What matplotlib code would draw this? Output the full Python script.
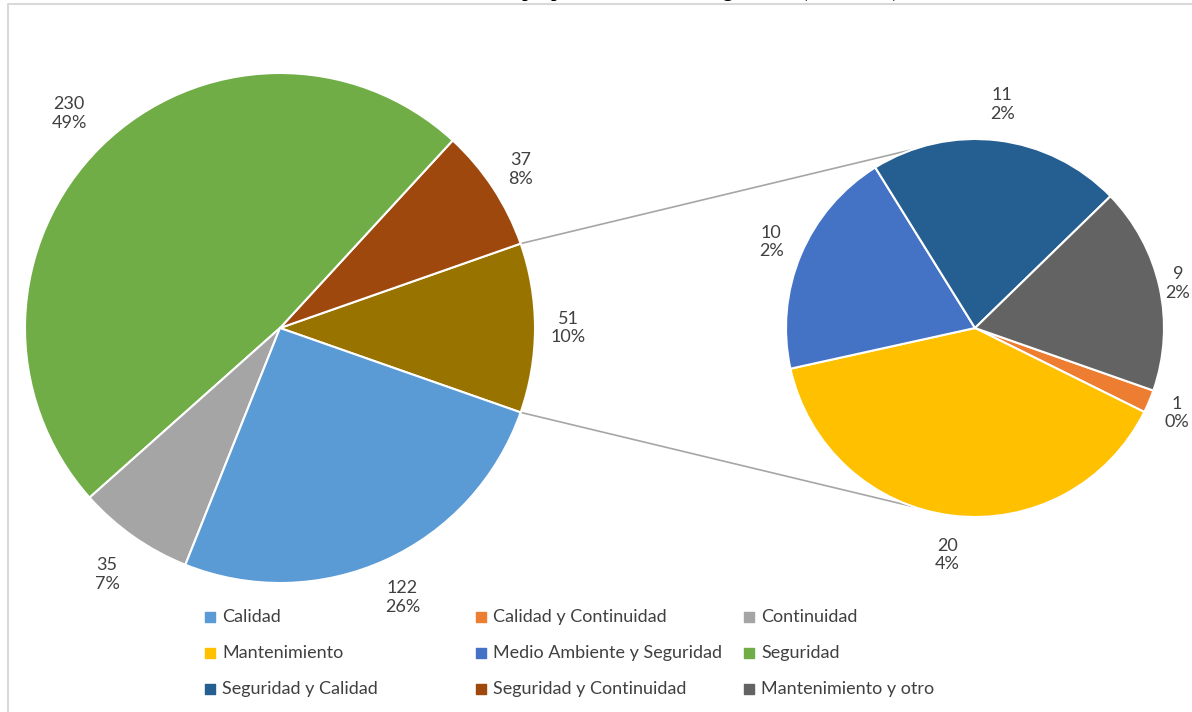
import matplotlib.pyplot as plt
import numpy as np

# data
main_names = ["Calidad", "Continuidad", "Seguridad", "Seguridad y Continuidad", "Otro"]
main_values = [122, 35, 230, 37, 51]
main_pcts = ["26%", "7%", "49%", "8%", "10%"]

sub_names = ["Calidad y Continuidad", "Mantenimiento", "Medio Ambiente y Seguridad",
             "Seguridad y Calidad", "Mantenimiento y otro"]
sub_values = [1, 20, 10, 11, 9]
sub_pcts = ["0%", "4%", "2%", "2%", "2%"]

legend_names = ["Calidad", "Calidad y Continuidad", "Continuidad",
                "Mantenimiento", "Medio Ambiente y Seguridad", "Seguridad",
                "Seguridad y Calidad", "Seguridad y Continuidad", "Mantenimiento y otro"]

colors = {
    "Calidad": "#5B9BD5",
    "Calidad y Continuidad": "#ED7D31",
    "Continuidad": "#A5A5A5",
    "Mantenimiento": "#FFC000",
    "Medio Ambiente y Seguridad": "#4472C4",
    "Seguridad": "#70AD47",
    "Seguridad y Calidad": "#255E91",
    "Seguridad y Continuidad": "#9E480E",
    "Mantenimiento y otro": "#636363",
    "Otro": "#997300",
}

# label distances (best-fit placement, as in Excel)
main_label_dist = [1.16, 1.18, 1.18, 1.13, 1.13]
sub_label_dist = [1.16, 1.21, 1.17, 1.19, 1.10]

plt.rcParams['font.family'] = ['Lato', 'DejaVu Sans']
txt_color = "#404040"
fs = 13

W, H = 1192, 712
fig = plt.figure(figsize=(W / 100, H / 100), dpi=100)
ax = fig.add_axes([0, 0, 1, 1])

# frame of the chart area (only top/left visible)
ax.plot([8, 8, W + 5], [-5, H - 4, H - 4], color="#d9d9d9", lw=1.5, clip_on=False)

# title, cropped by the top edge in the original (only descenders show)
fig.text(425 / W, 1.0 + 3 / H, "Número de propuestas realizadas según área (2019-2020)",
         ha="left", va="baseline", fontsize=14, fontweight="bold", family="Liberation Serif")

# main pie: "Otro" centred on the right, drawn counter-clockwise
main_c = (280, H - 328)
main_r = 255
order = [4, 3, 2, 1, 0]
vals = [main_values[i] for i in order]
start = -main_values[4] / sum(main_values) * 360 / 2
wedges, _ = ax.pie(vals, colors=[colors[main_names[i]] for i in order], center=main_c,
                   radius=main_r, startangle=start, counterclock=True,
                   wedgeprops=dict(edgecolor="white", linewidth=1.5))
for w, i in zip(wedges, order):
    ang = np.deg2rad((w.theta1 + w.theta2) / 2)
    d = main_r * main_label_dist[i]
    ax.text(main_c[0] + d * np.cos(ang), main_c[1] + d * np.sin(ang),
            f"{main_values[i]}\n{main_pcts[i]}", ha="center", va="center",
            fontsize=fs, color=txt_color, linespacing=1.2)

# secondary pie: clockwise from the same angle
sub_c = (975, H - 328)
sub_r = 189
sw, _ = ax.pie(sub_values, colors=[colors[n] for n in sub_names], center=sub_c,
               radius=sub_r, startangle=start, counterclock=False,
               wedgeprops=dict(edgecolor="white", linewidth=1.5))
for w, v, p, ld in zip(sw, sub_values, sub_pcts, sub_label_dist):
    ang = np.deg2rad((w.theta1 + w.theta2) / 2)
    d = sub_r * ld
    ax.text(sub_c[0] + d * np.cos(ang), sub_c[1] + d * np.sin(ang),
            f"{v}\n{p}", ha="center", va="center",
            fontsize=fs, color=txt_color, linespacing=1.2)

# connector lines
for a_main, a_sub in [(-start, 109), (start, -109)]:
    p1 = (main_c[0] + main_r * np.cos(np.deg2rad(a_main)), main_c[1] + main_r * np.sin(np.deg2rad(a_main)))
    p2 = (sub_c[0] + sub_r * np.cos(np.deg2rad(a_sub)), sub_c[1] + sub_r * np.sin(np.deg2rad(a_sub)))
    ax.plot([p1[0], p2[0]], [p1[1], p2[1]], color="#a6a6a6", lw=1.2, zorder=0)

# legend drawn by hand (Excel spacing)
col_x = [206, 477, 745]
row_y = [617, 653, 689]
for k, name in enumerate(legend_names):
    x = col_x[k % 3]
    y = H - row_y[k // 3]
    ax.scatter([x + 4], [y], marker="s", s=56, color=colors[name], zorder=5)
    ax.text(x + 16, y, name, ha="left", va="center", fontsize=fs, color=txt_color)

ax.set_xlim(0, W)
ax.set_ylim(0, H)
ax.set_aspect("equal")
ax.axis("off")

fig.savefig("out.png", dpi=100)
